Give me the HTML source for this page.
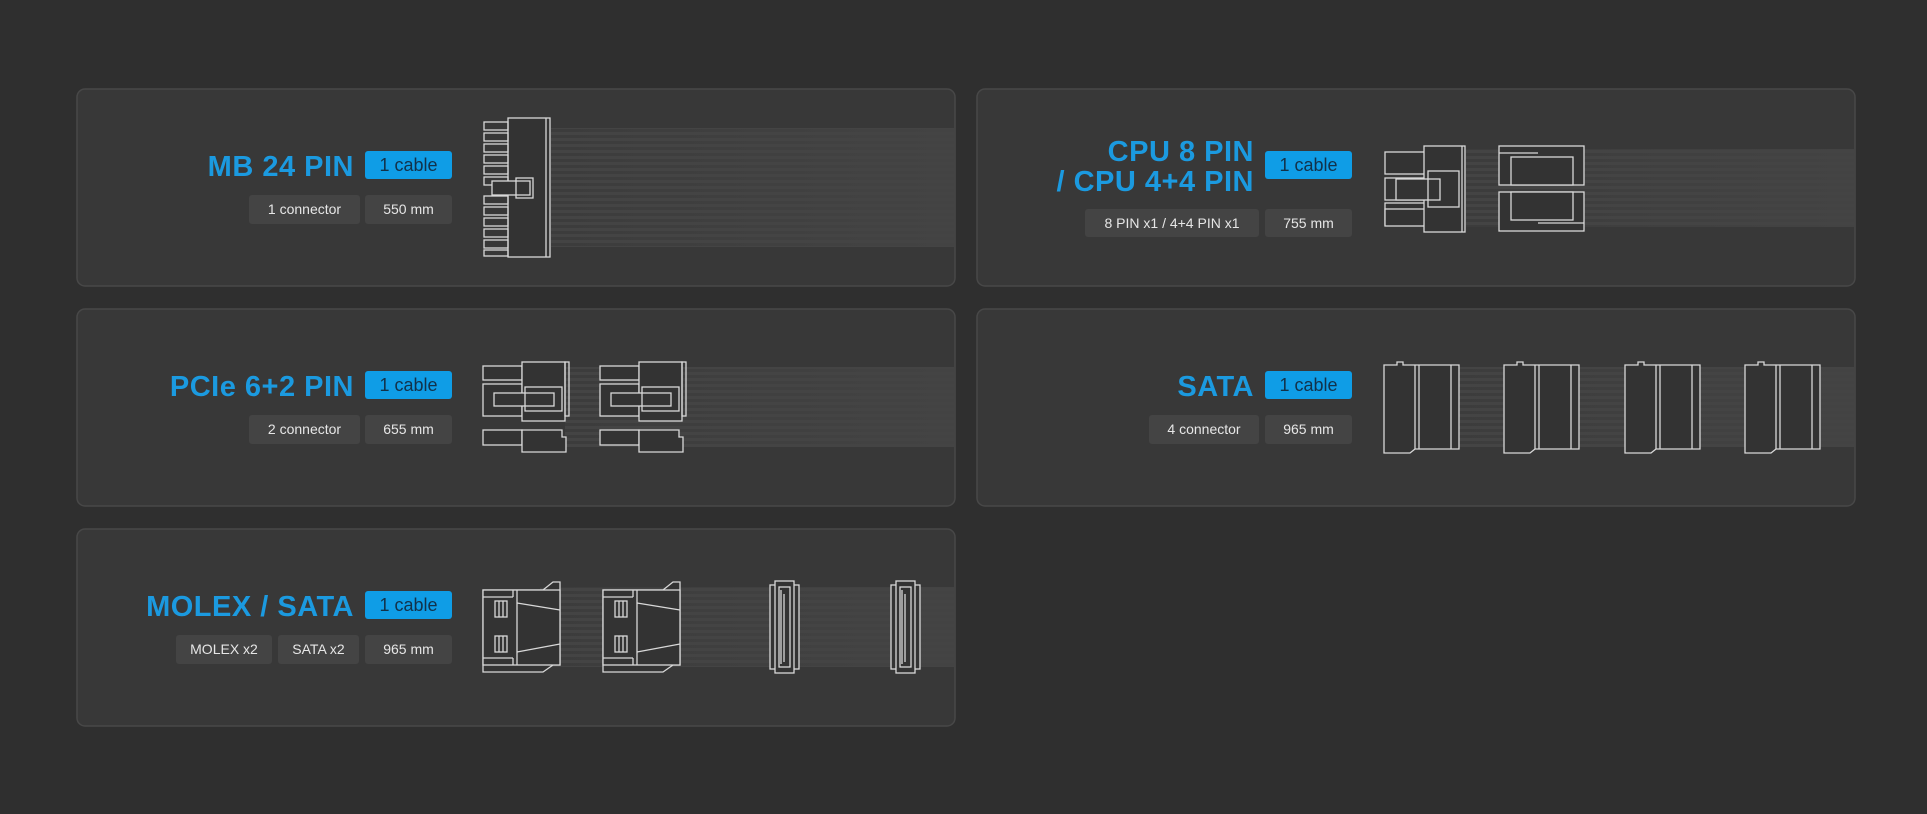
<!DOCTYPE html>
<html><head><meta charset="utf-8"><style>
html,body{margin:0;padding:0;background:#2f2f2f;}
svg{display:block}
text{font-family:"Liberation Sans","DejaVu Sans",sans-serif}
.t{fill:#1b9ae0;font-size:29px;text-anchor:end;font-weight:bold;letter-spacing:0.5px}
.b{fill:#0f9de6}
.bt{fill:#12324a;font-size:18px;text-anchor:middle}
.c{fill:#444}
.ct{fill:#e6e6e6;font-size:14px;text-anchor:middle}
.l{fill:#333;stroke:#d8d8d8;stroke-width:1.3}
.n{fill:none;stroke:#d8d8d8;stroke-width:1.3}
.p{fill:#383838;stroke:#484848;stroke-width:1.5}
</style></head><body>
<svg width="1927" height="814" viewBox="0 0 1927 814">
<defs>
<pattern id="st" width="10" height="6" patternUnits="userSpaceOnUse">
<rect width="10" height="6" fill="#3c3c3c"/><rect y="0" width="10" height="3" fill="#444"/>
</pattern>
<linearGradient id="fd" x1="0" x2="1"><stop offset="0" stop-color="#444" stop-opacity="0"/><stop offset="1" stop-color="#444" stop-opacity="0.9"/></linearGradient>
</defs>
<!-- panels -->
<rect class="p" x="77" y="89" width="878" height="197" rx="8"/>
<rect class="p" x="977" y="89" width="878" height="197" rx="8"/>
<rect class="p" x="77" y="309" width="878" height="197" rx="8"/>
<rect class="p" x="977" y="309" width="878" height="197" rx="8"/>
<rect class="p" x="77" y="529" width="878" height="197" rx="8"/>

<!-- bands -->
<rect x="551" y="128" width="403" height="119" fill="url(#st)"/><rect x="551" y="128" width="403" height="119" fill="url(#fd)"/>
<rect x="1466" y="149" width="388" height="78" fill="url(#st)"/><rect x="1466" y="149" width="388" height="78" fill="url(#fd)"/>
<rect x="565" y="367" width="389" height="80" fill="url(#st)"/><rect x="565" y="367" width="389" height="80" fill="url(#fd)"/>
<rect x="1440" y="367" width="414" height="80" fill="url(#st)"/><rect x="1440" y="367" width="414" height="80" fill="url(#fd)"/>
<rect x="540" y="587" width="414" height="80" fill="url(#st)"/><rect x="540" y="587" width="414" height="80" fill="url(#fd)"/>

<!-- Panel 1 text -->
<text class="t" x="354" y="176">MB 24 PIN</text>
<rect class="b" x="365" y="151" width="87" height="28" rx="3"/><text class="bt" x="408.5" y="171">1 cable</text>
<rect class="c" x="249" y="195" width="111" height="29" rx="3"/><text class="ct" x="304.5" y="214">1 connector</text>
<rect class="c" x="365" y="195" width="87" height="29" rx="3"/><text class="ct" x="408.5" y="214">550 mm</text>
<!-- MB connector -->
<g>
<rect class="l" x="508" y="118" width="42" height="139"/>
<line class="n" x1="546" y1="118" x2="546" y2="257"/>
<g class="n">
<rect x="484" y="122" width="24" height="8"/><rect x="484" y="133" width="24" height="8"/><rect x="484" y="144" width="24" height="8"/><rect x="484" y="155" width="24" height="8"/><rect x="484" y="166" width="24" height="8"/><rect x="484" y="177" width="24" height="8"/>
<rect x="484" y="196" width="24" height="8"/><rect x="484" y="207" width="24" height="8"/><rect x="484" y="218" width="24" height="8"/><rect x="484" y="229" width="24" height="8"/><rect x="484" y="240" width="24" height="8"/><rect x="484" y="250" width="24" height="6"/>
</g>
<rect class="l" x="492" y="181" width="38" height="14"/>
<rect class="n" x="516" y="178" width="17" height="20"/>
</g>

<!-- Panel 2 text -->
<text class="t" x="1254" y="161">CPU 8 PIN</text>
<text class="t" x="1254" y="191">/ CPU 4+4 PIN</text>
<rect class="b" x="1265" y="151" width="87" height="28" rx="3"/><text class="bt" x="1308.5" y="171">1 cable</text>
<rect class="c" x="1085" y="209" width="174" height="28" rx="3"/><text class="ct" x="1172" y="228">8 PIN x1 / 4+4 PIN x1</text>
<rect class="c" x="1265" y="209" width="87" height="28" rx="3"/><text class="ct" x="1308.5" y="228">755 mm</text>
<!-- CPU connectors -->
<g>
<rect class="l" x="1385" y="152" width="40" height="22"/><rect class="l" x="1385" y="178" width="40" height="22"/><rect class="l" x="1385" y="203" width="40" height="22"/><rect class="l" x="1385" y="209" width="40" height="17"/>
<rect class="l" x="1424" y="146" width="41" height="86"/>
<line class="n" x1="1462" y1="146" x2="1462" y2="232"/>
<rect class="l" x="1396" y="179" width="44" height="21"/>
<rect class="n" x="1428" y="171" width="31" height="36"/>
<rect class="l" x="1499" y="146" width="85" height="39"/>
<rect class="l" x="1511" y="157" width="62" height="28"/>
<line class="n" x1="1499" y1="153" x2="1538" y2="153"/>
<rect class="l" x="1499" y="192" width="85" height="39"/>
<rect class="l" x="1511" y="192" width="62" height="28"/>
<line class="n" x1="1538" y1="223" x2="1584" y2="223"/>
</g>

<!-- Panel 3 text -->
<text class="t" x="354" y="396">PCIe 6+2 PIN</text>
<rect class="b" x="365" y="371" width="87" height="28" rx="3"/><text class="bt" x="408.5" y="391">1 cable</text>
<rect class="c" x="249" y="415" width="111" height="29" rx="3"/><text class="ct" x="304.5" y="434">2 connector</text>
<rect class="c" x="365" y="415" width="87" height="29" rx="3"/><text class="ct" x="408.5" y="434">655 mm</text>
<!-- PCIe -->
<g id="pc">
<rect class="l" x="483" y="366" width="39" height="14"/>
<rect class="l" x="483" y="384" width="39" height="32"/>
<rect class="l" x="522" y="362" width="43" height="59"/>
<rect class="n" x="565" y="362" width="4" height="54"/>
<rect class="l" x="494" y="393" width="60" height="13"/>
<rect class="n" x="525" y="387" width="37" height="24"/>
<rect class="l" x="483" y="430" width="39" height="15"/>
<path class="l" d="M522 430 H562 V437 H566 V452 H522 Z"/>
</g>
<use href="#pc" x="117"/>

<!-- Panel 4 text -->
<text class="t" x="1254" y="396">SATA</text>
<rect class="b" x="1265" y="371" width="87" height="28" rx="3"/><text class="bt" x="1308.5" y="391">1 cable</text>
<rect class="c" x="1149" y="415" width="110" height="29" rx="3"/><text class="ct" x="1204" y="434">4 connector</text>
<rect class="c" x="1265" y="415" width="87" height="29" rx="3"/><text class="ct" x="1308.5" y="434">965 mm</text>
<g id="sa">
<path class="l" d="M1384 365 H1397 V362 H1403 V365 H1459 V449 H1415 L1410 453 H1384 Z"/>
<line class="n" x1="1415" y1="365" x2="1415" y2="449"/>
<line class="n" x1="1419" y1="365" x2="1419" y2="449"/>
<line class="n" x1="1451" y1="365" x2="1451" y2="449"/>
</g>
<use href="#sa" x="120"/><use href="#sa" x="241"/><use href="#sa" x="361"/>

<!-- Panel 5 text -->
<text class="t" x="354" y="616">MOLEX / SATA</text>
<rect class="b" x="365" y="591" width="87" height="28" rx="3"/><text class="bt" x="408.5" y="611">1 cable</text>
<rect class="c" x="176" y="635" width="96" height="29" rx="3"/><text class="ct" x="224" y="654">MOLEX x2</text>
<rect class="c" x="278" y="635" width="81" height="29" rx="3"/><text class="ct" x="318.5" y="654">SATA x2</text>
<rect class="c" x="365" y="635" width="87" height="29" rx="3"/><text class="ct" x="408.5" y="654">965 mm</text>
<g id="mo">
<path class="l" d="M483 590 H543 L553 582 H560 V665 H553 L543 672 H483 Z"/>
<rect class="l" x="483" y="590" width="77" height="75"/>
<line class="n" x1="483" y1="597" x2="513" y2="597"/><line class="n" x1="513" y1="590" x2="513" y2="597"/>
<line class="n" x1="483" y1="658" x2="513" y2="658"/><line class="n" x1="513" y1="658" x2="513" y2="665"/>
<line class="n" x1="517" y1="590" x2="517" y2="665"/>
<line class="n" x1="517" y1="603" x2="560" y2="610"/><line class="n" x1="517" y1="652" x2="560" y2="644"/>
<rect class="n" x="495" y="601" width="12" height="16"/><line class="n" x1="499" y1="601" x2="499" y2="617"/><line class="n" x1="503" y1="601" x2="503" y2="617"/>
<rect class="n" x="495" y="636" width="12" height="16"/><line class="n" x1="499" y1="636" x2="499" y2="652"/><line class="n" x1="503" y1="636" x2="503" y2="652"/>
</g>
<use href="#mo" x="120"/>
<g id="ss">
<rect class="l" x="770" y="585" width="29" height="84"/>
<rect class="l" x="775" y="581" width="19" height="92"/>
<rect class="n" x="779" y="587" width="11" height="80"/>
<path class="n" d="M781 590 V664 M784 594 V662"/>
</g>
<use href="#ss" x="121"/>
</svg>
</body></html>
